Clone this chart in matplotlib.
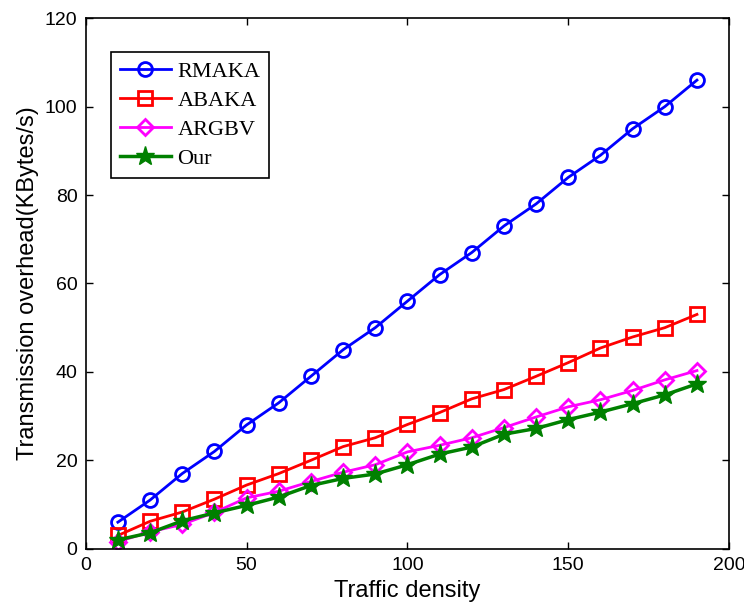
import matplotlib
matplotlib.use("Agg")
import matplotlib.pyplot as plt
from matplotlib import font_manager

# traffic density on x
density = [10, 20, 30, 40, 50, 60, 70, 80, 90, 100, 110, 120, 130, 140, 150, 160, 170, 180, 190]

rmaka = [6, 11, 17, 22, 28, 33, 39, 45, 50, 56, 62, 67, 73, 78, 84, 89, 95, 100, 106]
abaka = [3, 6.2, 8.3, 11.2, 14.4, 17, 20, 23.1, 25.1, 28.1, 30.8, 33.9, 36, 39, 42.1, 45.4, 47.9, 50, 53]
argbv = [1.6, 3.8, 5.5, 8.2, 11.5, 13, 15.2, 17.3, 19, 21.9, 23.4, 25.1, 27.4, 29.8, 32.1, 33.7, 35.8, 38.2, 40.3]
our = [2, 3.6, 6.3, 8.1, 9.8, 11.7, 14.3, 15.9, 16.9, 19, 21.4, 23, 25.9, 27.2, 29.2, 30.9, 32.8, 34.8, 37.3]

names = ["RMAKA", "ABAKA", "ARGBV", "Our"]

installed = {f.name for f in font_manager.fontManager.ttflist}
sans = "Liberation Sans Narrow" if "Liberation Sans Narrow" in installed else "Liberation Sans"
serif = "Liberation Serif"

fig = plt.figure(figsize=(7.44, 6.08), dpi=100)
ax = fig.add_axes([0.1152, 0.0975, 0.8648, 0.8725])

ax.plot(density, rmaka, color="blue", lw=2, marker="o", ms=10, mfc="none", mew=2, label=names[0])
ax.plot(density, abaka, color="red", lw=2, marker="s", ms=10, mfc="none", mew=2, label=names[1])
ax.plot(density, argbv, color="magenta", lw=2, marker="D", ms=8, mfc="none", mew=2, label=names[2])
ax.plot(density, our, color="green", lw=2.5, marker="*", ms=14, mfc="green", mec="green", label=names[3])

ax.set_xlim(0, 200)
ax.set_ylim(0, 120)
ax.set_xticks([0, 50, 100, 150, 200])
ax.set_yticks([0, 20, 40, 60, 80, 100, 120])
ax.tick_params(direction="in", top=True, right=True, length=5, width=1, labelsize=14, pad=6)
for lab in ax.get_xticklabels() + ax.get_yticklabels():
    lab.set_fontfamily(sans)
for s in ax.spines.values():
    s.set_linewidth(1.2)

ax.set_xlabel("Traffic density", fontsize=17, family=sans, labelpad=4)
ax.set_ylabel("Transmission overhead(KBytes/s)", fontsize=17, family=sans, labelpad=4)

leg = ax.legend(loc="upper left", bbox_to_anchor=(0.039, 0.936), borderaxespad=0,
                prop={"family": serif, "size": 16}, fancybox=False, framealpha=1,
                edgecolor="black", handlelength=2.3, handletextpad=0.3,
                labelspacing=0.38, borderpad=0.4)
leg.get_frame().set_linewidth(1.2)

fig.savefig("out.png", dpi=100)
